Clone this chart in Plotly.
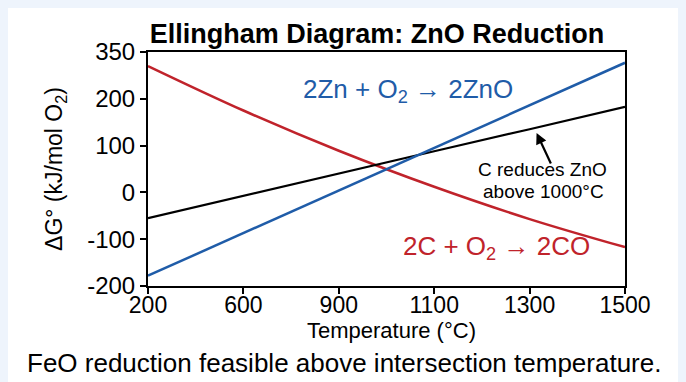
import plotly.graph_objects as go

# Temperature positions on the (evenly spaced) axis and their printed labels
temps = [200, 460, 720, 980, 1240, 1500]
x_tick_labels = ["200", "600", "900", "1100", "1300", "1500"]
y_tick_vals = [-200, -100, 0, 100, 200, 300]
y_tick_labels = ["-200", "-100", "0", "100", "200", "350"]

# ΔG° values (kJ/mol O2)
zn_dg = [-178, -87, 4, 95, 186, 277]
c_dg_line = [-55, -7, 40, 88, 135, 183]
co_dg = [270, 175, 89, 12, -57, -117]

BLUE = "#1f5ca8"
RED = "#c0232b"
FONT = "Arial"

fig = go.Figure()
fig.add_trace(go.Scatter(x=temps, y=co_dg, mode="lines", line=dict(color=RED, width=2.5, shape="spline"), showlegend=False))
fig.add_trace(go.Scatter(x=temps, y=c_dg_line, mode="lines", line=dict(color="black", width=2.2), showlegend=False))
fig.add_trace(go.Scatter(x=temps, y=zn_dg, mode="lines", line=dict(color=BLUE, width=2.5), showlegend=False))

fig.add_annotation(x=908, y=217, text="2Zn + O<sub>2</sub> → 2ZnO", showarrow=False,
                   font=dict(family=FONT, size=26, color=BLUE))
fig.add_annotation(x=1151, y=-118, text="2C + O<sub>2</sub> → 2CO", showarrow=False,
                   font=dict(family=FONT, size=26, color=RED))
fig.add_annotation(x=1274, y=50, text="C reduces ZnO", showarrow=False,
                   font=dict(family=FONT, size=19, color="black"))
fig.add_annotation(x=1278, y=3, text="above 1000°C", showarrow=False,
                   font=dict(family=FONT, size=19, color="black"))
fig.add_annotation(x=1259, y=127, ax=15, ay=32, text="", showarrow=True, arrowhead=2,
                   arrowsize=1, arrowwidth=2.2, arrowcolor="black")

# axis titles and footer
fig.add_annotation(xref="paper", yref="paper", x=0.5115, y=-0.1923, xanchor="center", yanchor="middle",
                   text="Temperature (°C)", showarrow=False, font=dict(family=FONT, size=22, color="black"))
fig.add_annotation(xref="paper", yref="paper", x=-0.195, y=0.5, xanchor="center", yanchor="middle",
                   text="ΔG° (kJ/mol O<sub>2</sub>)", textangle=-90, showarrow=False,
                   font=dict(family=FONT, size=23, color="black"))
fig.add_annotation(xref="paper", yref="paper", x=0.411, y=-0.329, xanchor="center", yanchor="middle",
                   text="FeO reduction feasible above intersection temperature.",
                   showarrow=False, font=dict(family=FONT, size=26, color="black"))

fig.update_layout(
    width=678, height=374,
    margin=dict(l=140, r=61, t=44, b=96),
    paper_bgcolor="white", plot_bgcolor="white",
    font=dict(family=FONT, color="black"),
    title=dict(text="<b>Ellingham Diagram: ZnO Reduction</b>", x=0.48, xref="paper", xanchor="center",
               y=1 - 26 / 374, yref="container", yanchor="middle", font=dict(size=27, family=FONT)),
)
fig.update_xaxes(range=[200, 1500], tickvals=temps, ticktext=x_tick_labels, showgrid=False, zeroline=False,
                 showline=True, linecolor="black", linewidth=2, mirror=True, ticks="outside", ticklen=6,
                 tickwidth=2, tickcolor="black", tickfont=dict(size=23), ticklabelstandoff=-9)
fig.update_yaxes(range=[-200, 300], tickvals=y_tick_vals, ticktext=y_tick_labels, showgrid=False, zeroline=False,
                 showline=True, linecolor="black", linewidth=2, mirror=True, ticks="outside", ticklen=6,
                 tickwidth=2, tickcolor="black", tickfont=dict(size=24))

fig.write_html("out.html", post_script="document.body.style.backgroundColor='#eef4fc';")
